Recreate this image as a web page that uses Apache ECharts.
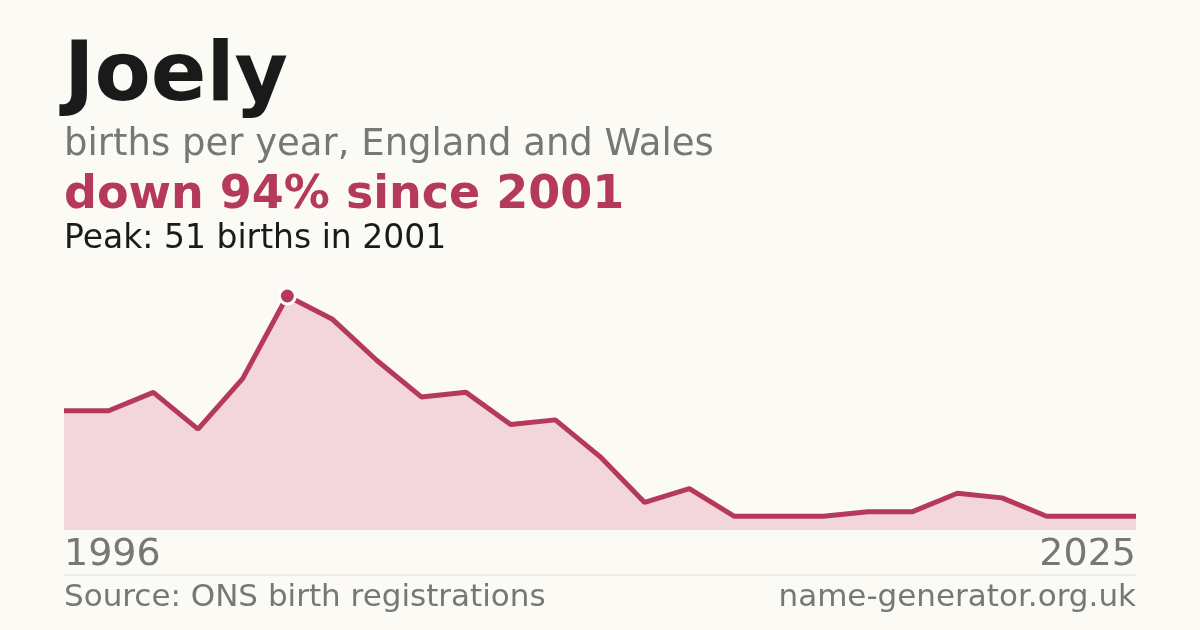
<!DOCTYPE html>
<html><head><meta charset="utf-8">
<script src="https://cdn.jsdelivr.net/npm/echarts@6/dist/echarts.min.js"></script>
<style>html,body{margin:0;background:#fbfaf5}#c{width:1200px;height:630px}</style>
</head><body><div id="c"></div>
<script>
const years = ['1996','1997','1998','1999','2000','2001','2002','2003','2004','2005','2006','2007','2008','2009','2010','2011','2012','2013','2014','2015','2016','2017','2018','2019','2025'];
const births = [26,26,30,22,33,51,46,37,29,30,23,24,16,6,9,3,3,3,4,4,8,7,3,3,3];
const axisLabels = ['1996','2025'];
const F = 'DejaVu Sans';
const c = echarts.init(document.getElementById('c'));
const peakIdx = births.indexOf(Math.max(...births));
c.setOption({
  backgroundColor:'#fbfaf5',
  animation:false,
  grid:{left:64,right:64,top:296,bottom:100},
  xAxis:{type:'category',data:years,boundaryGap:false,axisLine:{show:false},axisTick:{show:false},axisLabel:{show:false}},
  yAxis:{type:'value',min:0,max:51,show:false},
  series:[{type:'line',data:births,symbol:'none',lineStyle:{color:'#b5395a',width:5},
    areaStyle:{color:'#f2d6db',opacity:1},
    markPoint:{symbol:'circle',symbolSize:16,itemStyle:{color:'#b5395a',borderColor:'#fff',borderWidth:3},label:{show:false},
      data:[{coord:[peakIdx,births[peakIdx]]}]}}],
  graphic:[
    {type:'text',left:64,top:38,style:{text:'Joely',font:'bold 82px '+F,fill:'#1a1a1a'}},
    {type:'text',left:64,top:127,style:{text:'births per year, England and Wales',font:'37px '+F,fill:'#777'}},
    {type:'text',left:64,top:173,style:{text:'down 94% since 2001',font:'bold 46px '+F,fill:'#b5395a'}},
    {type:'text',left:64,top:223,style:{text:'Peak: 51 births in 2001',font:'33px '+F,fill:'#1a1a1a'}},
    {type:'text',left:64,top:536,style:{text:axisLabels[0],font:'38px '+F,fill:'#777'}},
    {type:'text',right:64,top:536,style:{text:axisLabels[1],font:'38px '+F,fill:'#777',align:'right'}},
    {type:'line',shape:{x1:64,y1:575,x2:1136,y2:575},style:{stroke:'#e2e0da',lineWidth:1}},
    {type:'text',left:64,top:582,style:{text:'Source: ONS birth registrations',font:'31px '+F,fill:'#777'}},
    {type:'text',right:64,top:582,style:{text:'name-generator.org.uk',font:'31px '+F,fill:'#777',align:'right'}}
  ]
});
</script></body></html>
